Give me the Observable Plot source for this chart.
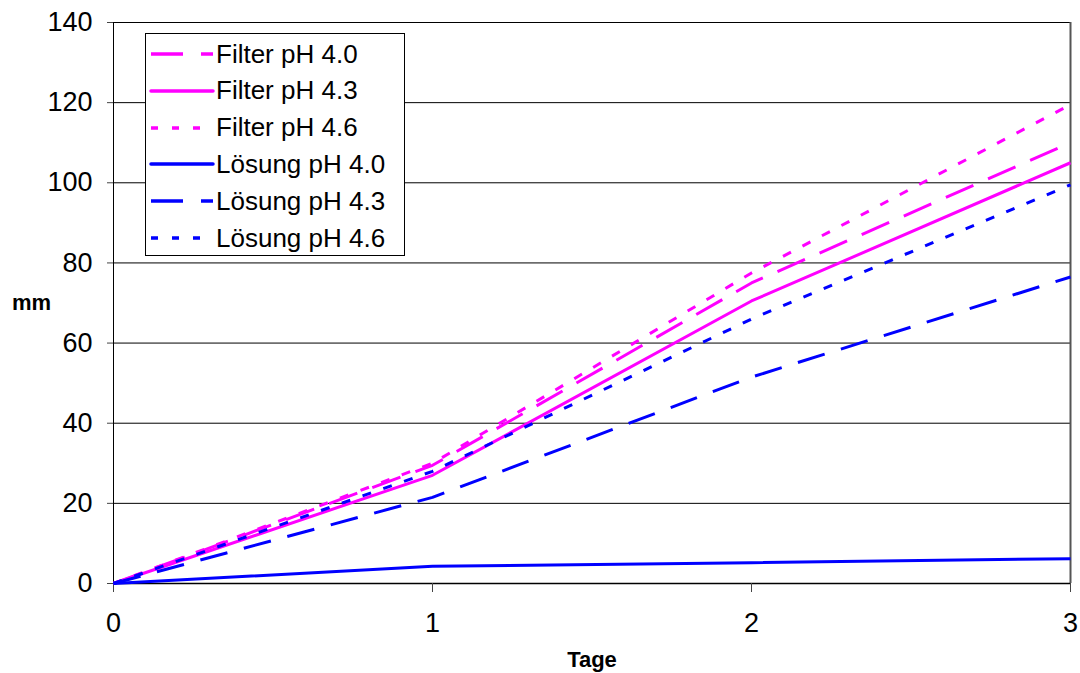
<!DOCTYPE html>
<html>
<head>
<meta charset="utf-8">
<script src="https://cdn.jsdelivr.net/npm/d3@7"></script>
<script src="https://cdn.jsdelivr.net/npm/@observablehq/plot@0.6"></script>
<style>
  body { margin: 0; background: #fff; font-family: "Liberation Sans", Arial, sans-serif; }
  #wrap { position: relative; width: 1080px; height: 673px; }
  #legend { position: absolute; left: 145px; top: 33px; width: 260px; height: 223px; border: 1px solid #000; background: #fff; box-sizing: border-box; }
  .row { position: absolute; left: 0; height: 30px; display: flex; align-items: center; }
  .row span { font-size: 26px; color: #000; margin-left: 0px; white-space: nowrap; }
</style>
</head>
<body>
<div id="wrap"></div>
<script>
const days = [0, 1, 2, 3];
const seriesNames = ["Filter pH 4.0", "Filter pH 4.3", "Filter pH 4.6", "Lösung pH 4.0", "Lösung pH 4.3", "Lösung pH 4.6"];
const filter40 = [0, 29.5, 75, 110];
const filter43 = [0, 27, 70.5, 105];
const filter46 = [0, 30, 77.5, 119.5];
const loesung40 = [0, 4.3, 5.2, 6.2];
const loesung43 = [0, 21.5, 51.5, 76.5];
const loesung46 = [0, 28, 66, 99.5];
const yTicks = [0, 20, 40, 60, 80, 100, 120, 140];
const xTicks = [0, 1, 2, 3];

const seriesValues = [filter40, filter43, filter46, loesung40, loesung43, loesung46];
const colors = ["#FF00FF", "#FF00FF", "#FF00FF", "#0000FF", "#0000FF", "#0000FF"];
const dashes = ["30,16", null, "9,13", null, "28,17", "9,13"];

const lineMarks = seriesNames.map((name, i) =>
  Plot.line(days.map((d, j) => ({day: d, mm: seriesValues[i][j]})), {
    x: "day", y: "mm", stroke: colors[i], strokeWidth: 3,
    strokeDasharray: dashes[i] || undefined, strokeLinecap: "butt", strokeLinejoin: "round"
  })
);

const chart = Plot.plot({
  width: 1080,
  height: 673,
  marginLeft: 113,
  marginRight: 10,
  marginTop: 22,
  marginBottom: 90,
  style: {fontFamily: "'Liberation Sans', Arial, sans-serif", background: "#fff", color: "#000"},
  x: {domain: [0, 3], ticks: xTicks},
  y: {domain: [0, 140], ticks: yTicks},
  marks: [
    Plot.gridY(yTicks, {stroke: "#000", strokeOpacity: 1, strokeWidth: 1}),
    Plot.ruleX([3], {stroke: "#555", strokeWidth: 2}),
    Plot.ruleX([0], {stroke: "#000", strokeWidth: 1}),
    Plot.ruleY([0], {stroke: "#000", strokeWidth: 1.5}),
    Plot.axisY(yTicks, {tickSize: 6, tickPadding: 15, fontSize: 27, label: null, stroke: "#444", tickFormat: d => String(d)}),
    Plot.axisX(xTicks, {tickSize: 9, tickPadding: 20, fontSize: 27, label: null, stroke: "#444", tickFormat: d => String(d)}),
    Plot.text(["mm"], {frameAnchor: "left", dx: -82, dy: 0, textAnchor: "middle", fontSize: 22, fontWeight: "bold"}),
    Plot.text(["Tage"], {frameAnchor: "bottom", dy: 83, textAnchor: "middle", fontSize: 22, fontWeight: "bold"}),
    ...lineMarks
  ]
});

const wrap = document.getElementById("wrap");
wrap.appendChild(chart);

const legend = document.createElement("div");
legend.id = "legend";
seriesNames.forEach((name, i) => {
  const row = document.createElement("div");
  row.className = "row";
  row.style.top = (5 + i * 36.8) + "px";
  const dash = dashes[i] ? `stroke-dasharray="${i === 0 || i === 4 ? "32,18" : "7,14"}"` : "";
  row.innerHTML = `<svg width="70" height="30"><line x1="5" x2="67" y1="15" y2="15" stroke="${colors[i]}" stroke-width="3.5" ${dash} stroke-linecap="${dashes[i] ? "butt" : "round"}"/></svg><span>${name}</span>`;
  legend.appendChild(row);
});
wrap.appendChild(legend);
</script>
</body>
</html>
